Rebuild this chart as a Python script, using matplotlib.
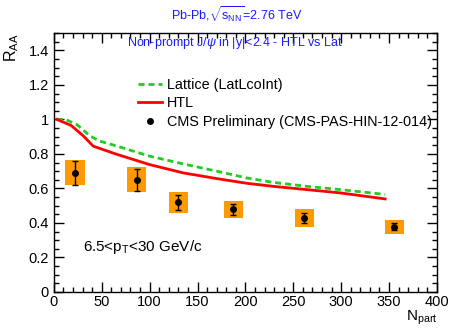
import matplotlib

matplotlib.use("Agg")
import matplotlib.pyplot as plt
from matplotlib.patches import Rectangle
from matplotlib.ticker import FuncFormatter, MultipleLocator

plt.rcParams["font.family"] = ["Liberation Sans", "DejaVu Sans"]
plt.rcParams["mathtext.fontset"] = "custom"
plt.rcParams["mathtext.rm"] = "Liberation Sans"
plt.rcParams["mathtext.it"] = "Liberation Sans:italic"

# CMS non-prompt J/psi R_AA vs centrality
npart = [22.1, 86.3, 130.0, 187.2, 261.4, 355.4]
raa = [0.69, 0.65, 0.52, 0.478, 0.428, 0.378]
raa_stat = [0.07, 0.064, 0.044, 0.033, 0.03, 0.021]
raa_syst = [0.072, 0.072, 0.06, 0.051, 0.051, 0.04]
box_halfwidth = 10.0

# model curves
npart_htl = [3, 18, 31, 41, 66, 100, 135, 170, 201, 229, 264, 299, 346]
raa_htl = [1.0, 0.965, 0.903, 0.845, 0.797, 0.738, 0.69, 0.657, 0.63, 0.612, 0.593, 0.574, 0.539]
npart_lat = [3, 12, 24, 38, 48, 66, 100, 135, 170, 201, 229, 264, 299, 346]
raa_lat = [1.0, 1.0, 0.97, 0.903, 0.874, 0.845, 0.787, 0.742, 0.70, 0.661, 0.635, 0.612, 0.593, 0.565]

fig = plt.figure(figsize=(4.49, 3.28), dpi=100)
ax = fig.add_axes([0.120, 0.110, 0.853, 0.789])

for x, y, s in zip(npart, raa, raa_syst):
    ax.add_patch(Rectangle((x - box_halfwidth, y - s), 2 * box_halfwidth, 2 * s,
                           facecolor="#ff9900", edgecolor="none", zorder=1))

lat_line, = ax.plot(npart_lat, raa_lat, color="#22cc22", lw=2.0, dashes=(2.2, 1.4), zorder=3)
htl_line, = ax.plot(npart_htl, raa_htl, color="red", lw=2.0, zorder=3)
cms = ax.errorbar(npart, raa, yerr=raa_stat, fmt="o", color="black", ms=4,
                  elinewidth=1.0, capsize=2, capthick=1.0, zorder=4)

ax.legend([lat_line, htl_line, cms.lines[0]],
          ["Lattice (LatLcoInt)", "HTL", "CMS Preliminary (CMS-PAS-HIN-12-014)"],
          loc="upper left", bbox_to_anchor=(0.219, 0.827), frameon=False,
          fontsize=10.4, borderpad=0, borderaxespad=0, handlelength=1.7,
          handletextpad=0.3, labelspacing=0.3)

ax.set_xlim(0, 400)
ax.set_ylim(0, 1.5)
ax.xaxis.set_major_locator(MultipleLocator(50))
ax.xaxis.set_minor_locator(MultipleLocator(10))
ax.yaxis.set_major_locator(MultipleLocator(0.2))
ax.yaxis.set_minor_locator(MultipleLocator(0.05))
ax.yaxis.set_major_formatter(FuncFormatter(lambda v, p: "%g" % round(v, 2)))
ax.tick_params(which="both", direction="in", top=True, right=True, labelsize=10.5, width=1.0)
ax.tick_params(which="major", length=7)
ax.tick_params(which="minor", length=3.5)
ax.tick_params(axis="x", pad=2)
for sp in ax.spines.values():
    sp.set_linewidth(1.0)

fig.text(237 / 449, 1 - 15 / 328, r"Pb-Pb,$\sqrt{\mathrm{s_{NN}}}$=2.76 TeV",
         color="#1a1aff", fontsize=9, ha="center", va="center")
ax.text(0.474, 0.962, r"Non-prompt J/$\psi$ in |y|<2.4 - HTL vs Lat",
        transform=ax.transAxes, color="#1a1aff", fontsize=9, ha="center", va="center")
ax.text(0.075, 0.175, r"6.5<p$_{\rm T}$<30 GeV/c", transform=ax.transAxes,
        fontsize=11, ha="left", va="center")

fig.text(12 / 449, 1 - 33 / 328, r"R$_{\rm AA}$", rotation=90, fontsize=11.5, ha="center", va="top")
fig.text(437 / 449, 1 - 309 / 328, r"N$_{\rm part}$", fontsize=11, ha="right", va="top")

fig.savefig("out.png", dpi=100)
